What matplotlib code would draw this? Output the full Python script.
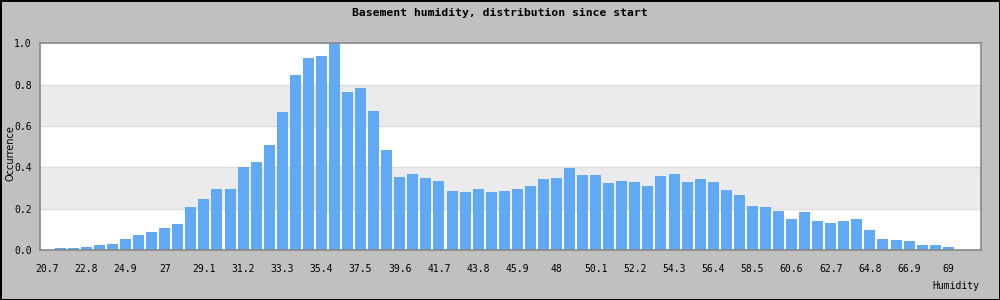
import matplotlib
matplotlib.use("Agg")
import matplotlib.pyplot as plt

# humidity bins (centre of each bin) and normalised occurrence
humidity = [20.7, 21.4, 22.1, 22.8, 23.5, 24.2, 24.9, 25.6, 26.3, 27.0,
            27.7, 28.4, 29.1, 29.8, 30.5, 31.2, 31.9, 32.6, 33.3, 34.0,
            34.7, 35.4, 36.1, 36.8, 37.5, 38.2, 38.9, 39.6, 40.3, 41.0,
            41.7, 42.4, 43.1, 43.8, 44.5, 45.2, 45.9, 46.6, 47.3, 48.0,
            48.7, 49.4, 50.1, 50.8, 51.5, 52.2, 52.9, 53.6, 54.3, 55.0,
            55.7, 56.4, 57.1, 57.8, 58.5, 59.2, 59.9, 60.6, 61.3, 62.0,
            62.7, 63.4, 64.1, 64.8, 65.5, 66.2, 66.9, 67.6, 68.3, 69.0]
occurrence = [0.0, 0.010, 0.010, 0.015, 0.024, 0.029, 0.053, 0.073, 0.087, 0.106,
              0.126, 0.208, 0.247, 0.295, 0.295, 0.402, 0.426, 0.508, 0.668, 0.847,
              0.929, 0.939, 1.000, 0.765, 0.784, 0.673, 0.484, 0.353, 0.368, 0.348,
              0.334, 0.285, 0.281, 0.295, 0.281, 0.285, 0.295, 0.310, 0.344, 0.348,
              0.397, 0.363, 0.363, 0.324, 0.334, 0.329, 0.310, 0.358, 0.368, 0.329,
              0.344, 0.329, 0.290, 0.266, 0.213, 0.208, 0.189, 0.150, 0.184, 0.140,
              0.131, 0.140, 0.150, 0.097, 0.053, 0.048, 0.044, 0.024, 0.024, 0.0145]

xticks = [20.7, 22.8, 24.9, 27.0, 29.1, 31.2, 33.3, 35.4, 37.5, 39.6, 41.7,
          43.8, 45.9, 48.0, 50.1, 52.2, 54.3, 56.4, 58.5, 60.6, 62.7, 64.8,
          66.9, 69.0]
xtick_labels = ["20.7", "22.8", "24.9", "27", "29.1", "31.2", "33.3", "35.4",
                "37.5", "39.6", "41.7", "43.8", "45.9", "48", "50.1", "52.2",
                "54.3", "56.4", "58.5", "60.6", "62.7", "64.8", "66.9", "69"]
yticks = [0.0, 0.2, 0.4, 0.6, 0.8, 1.0]

mono = "DejaVu Sans Mono"

fig = plt.figure(figsize=(10, 3), dpi=100)
fig.patch.set_facecolor("#c0c0c0")
fig.patch.set_edgecolor("black")
fig.patch.set_linewidth(2)

ax = fig.add_axes([0.0403, 0.1667, 0.9404, 0.689])
ax.set_facecolor("white")

# alternating bands + grid lines
ax.axhspan(0.2, 0.4, color="#ebebeb", zorder=0, lw=0)
ax.axhspan(0.6, 0.8, color="#ebebeb", zorder=0, lw=0)
for y in yticks[1:-1]:
    ax.axhline(y, color="#dcdcdc", lw=1, zorder=0.5)

ax.bar(humidity, occurrence, width=0.59, color="#61a9f4", zorder=2)

ax.set_xlim(20.33, 70.74)
ax.set_ylim(0, 1.0)

ax.set_xticks(xticks)
ax.set_xticklabels(xtick_labels, family=mono, fontsize=7)
ax.set_yticks(yticks)
ax.set_yticklabels(["%.1f" % v for v in yticks], family=mono, fontsize=7)
ax.tick_params(axis="x", length=0, pad=10)
ax.tick_params(axis="y", length=0, pad=6)

for s in ax.spines.values():
    s.set_color("#888888")
    s.set_linewidth(1.2)

fig.text(0.5, 0.957, "Basement humidity, distribution since start",
         ha="center", va="center", family=mono, fontweight="bold", fontsize=8.2)
fig.text(0.011, 0.49, "Occurrence", rotation=90, ha="center", va="center",
         fontsize=7)
fig.text(0.979, 0.047, "Humidity", ha="right", va="center", family=mono,
         fontsize=7)

fig.savefig("out.png", dpi=100, facecolor=fig.get_facecolor(),
            edgecolor=fig.get_edgecolor())
